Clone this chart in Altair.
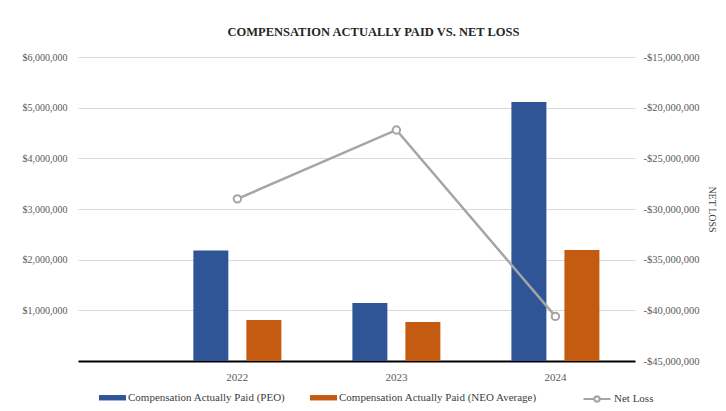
import altair as alt
import pandas as pd

years = ["2022", "2023", "2024"]
peo_cap = [2180000, 1145000, 5110000]
neo_cap = [810000, 770000, 2190000]
net_loss = [-29000000, -22200000, -40600000]

SER_PEO = "Compensation Actually Paid (PEO)"
SER_NEO = "Compensation Actually Paid (NEO Average)"
SER_NL = "Net Loss"

bars_df = pd.DataFrame(
    [{"year": y, "series": SER_PEO, "value": v} for y, v in zip(years, peo_cap)]
    + [{"year": y, "series": SER_NEO, "value": v} for y, v in zip(years, neo_cap)]
)
line_df = pd.DataFrame({"year": years, "series": SER_NL, "value": net_loss})

FONT = "Liberation Serif"
LABEL_COLOR = "#595959"
GRAY = "#A5A5A5"

x_scale = alt.Scale(paddingInner=1 / 3, paddingOuter=0.418, align=0.8)
x_axis = alt.Axis(
    title=None, labelAngle=0, ticks=False, domain=True, domainColor="#000000",
    domainWidth=2, labelFont=FONT, labelFontSize=11, labelColor=LABEL_COLOR,
    labelPadding=10, grid=False,
)

bar_legend = alt.Legend(
    title=None, orient="none", legendX=21, legendY=327, direction="horizontal",
    labelFont=FONT, labelFontSize=11, labelColor="#404040", symbolSize=729,
    symbolType="M-1,-0.2H1V0.2H-1Z", symbolStrokeWidth=0, labelLimit=400,
    columnPadding=24, labelOffset=2,
)
line_legend = alt.Legend(
    title=None, orient="none", legendX=504, legendY=327, direction="horizontal",
    labelFont=FONT, labelFontSize=11, labelColor="#404040", symbolSize=729,
    symbolType="M-1,0H-0.2M0.2,0H1M-0.2,0A0.2,0.2 0 1,1 0.2,0A0.2,0.2 0 1,1 -0.2,0",
    symbolFillColor="#ffffff", symbolStrokeWidth=2.2, labelOffset=2, labelLimit=200,
)

bars = alt.Chart(bars_df).mark_bar().encode(
    x=alt.X("year:N", scale=x_scale, axis=x_axis, sort=years),
    xOffset=alt.XOffset("series:N", sort=[SER_PEO, SER_NEO],
                        scale=alt.Scale(paddingInner=0.34, paddingOuter=0.17)),
    y=alt.Y(
        "value:Q",
        scale=alt.Scale(domain=[0, 6000000]),
        axis=alt.Axis(
            title=None, values=[0, 1000000, 2000000, 3000000, 4000000, 5000000, 6000000],
            labelExpr="datum.value == 0 ? '' : '$' + format(datum.value, ',')",
            ticks=False, domain=False, grid=True, gridColor="#D9D9D9", gridWidth=1,
            labelFont=FONT, labelFontSize=10, labelColor=LABEL_COLOR, labelPadding=11,
        ),
    ),
    color=alt.Color("series:N", legend=bar_legend,
                    scale=alt.Scale(domain=[SER_PEO, SER_NEO], range=["#2F5597", "#C55A11"])),
)

line_base = alt.Chart(line_df).encode(
    x=alt.X("year:N", scale=x_scale, axis=x_axis, sort=years),
    y=alt.Y(
        "value:Q",
        scale=alt.Scale(domain=[-45000000, -15000000]),
        axis=alt.Axis(
            title="NET LOSS", orient="right",
            values=[-45000000, -40000000, -35000000, -30000000, -25000000, -20000000, -15000000],
            labelExpr="'-$' + format(abs(datum.value), ',')",
            ticks=False, domain=False, grid=False,
            labelFont=FONT, labelFontSize=10.5, labelColor=LABEL_COLOR, labelPadding=8,
            titleFont=FONT, titleFontSize=10, titleFontWeight="normal", titleColor="#404040",
            titleAngle=90, titlePadding=8,
        ),
    ),
    stroke=alt.Stroke("series:N", legend=line_legend,
                      scale=alt.Scale(domain=[SER_NL], range=[GRAY])),
)
line = line_base.mark_line(strokeWidth=2.5)
points = line_base.mark_point(filled=False, fill="#ffffff", fillOpacity=1, size=55,
                              strokeWidth=2, opacity=1)

chart = (
    alt.layer(bars, line + points)
    .resolve_scale(y="independent")
    .properties(
        width=557,
        height=304,
        autosize=alt.AutoSizeParams(type="none"),
        padding={"left": 70, "top": 49, "right": 83, "bottom": 42},
        title=alt.Title(
            "COMPENSATION ACTUALLY PAID VS. NET LOSS",
            anchor="middle", font=FONT, fontSize=12.5, fontWeight="bold",
            color="#262626", offset=14, dx=17,
        ),
    )
    .configure_view(stroke=None)
)

chart.save("out.html", embed_options={"renderer": "svg", "actions": False})
